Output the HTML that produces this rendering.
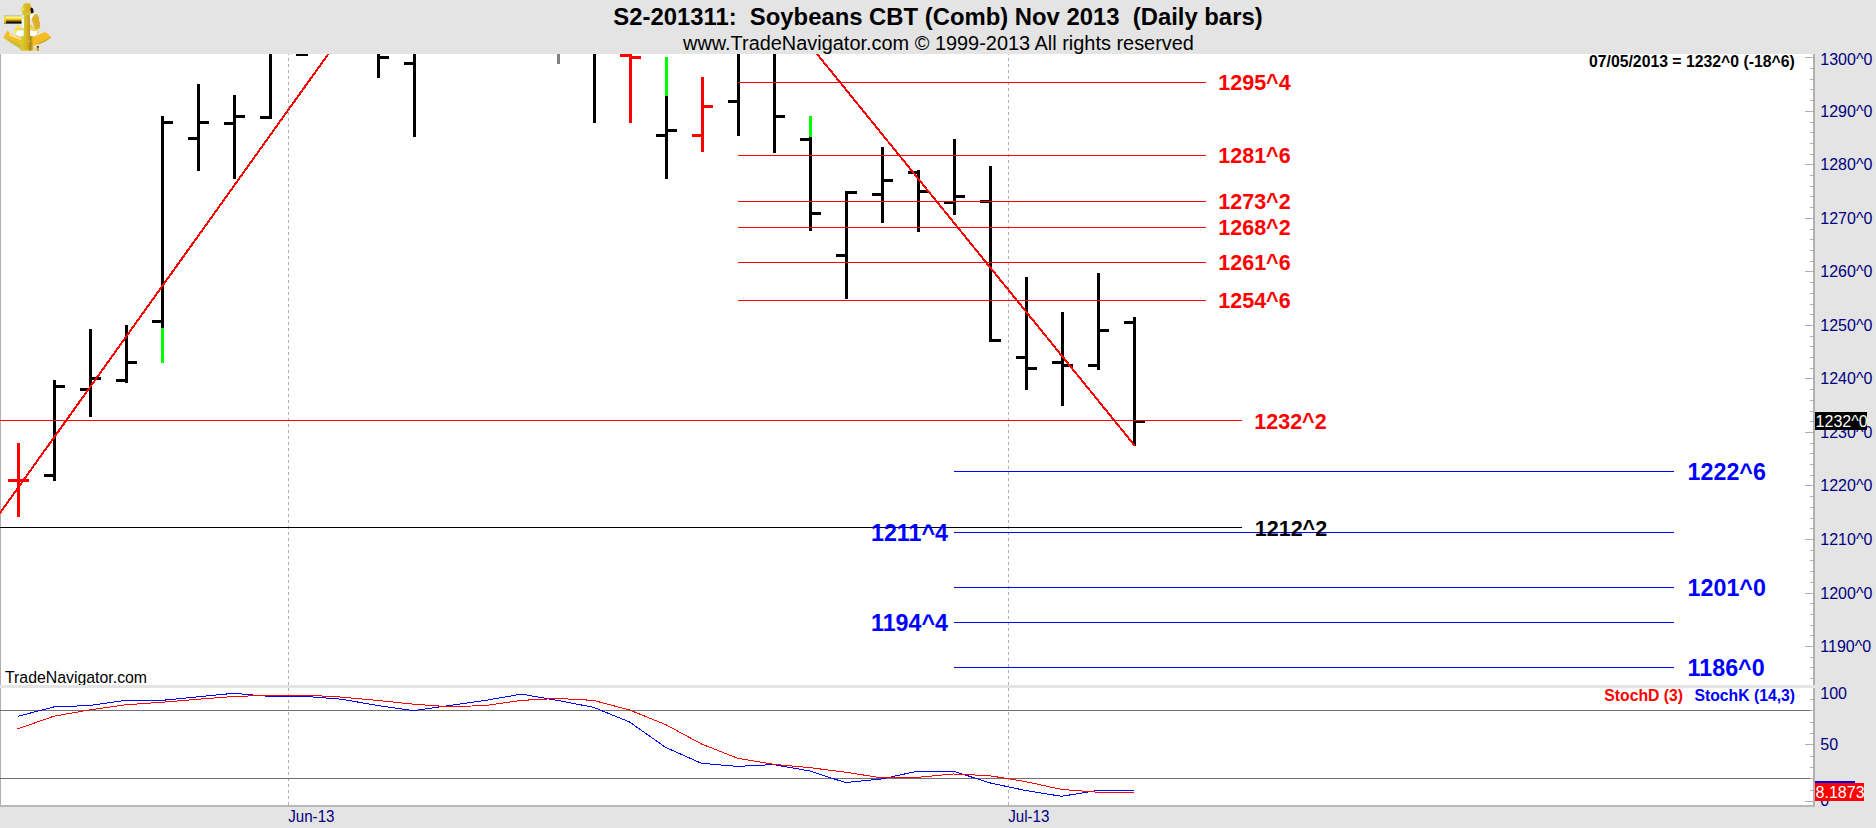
<!DOCTYPE html>
<html><head><meta charset="utf-8"><title>S2-201311 Soybeans</title>
<style>
html,body{margin:0;padding:0}
body{width:1876px;height:828px;background:#e4e4e4;overflow:hidden;position:relative;font-family:"Liberation Sans",sans-serif}
svg{position:absolute;left:0;top:0;font-family:"Liberation Sans",sans-serif}
text{white-space:pre}
</style></head><body>
<svg width="1876" height="828" viewBox="0 0 1876 828">
<defs>
<clipPath id="cp"><rect x="0" y="54" width="1813" height="751"/></clipPath>
<clipPath id="cp3"><rect x="0" y="600" width="400" height="85"/></clipPath>
</defs>
<g shape-rendering="crispEdges">
<rect x="0" y="54" width="1813" height="751" fill="#fff"/>
<rect x="0" y="54" width="1" height="753" fill="#b0b0b0"/>
<g clip-path="url(#cp)">
<path d="M288.5 52V805" stroke="#b0b0b0" stroke-width="1" stroke-dasharray="3 3" fill="none"/>
<path d="M1008.5 52V805" stroke="#b0b0b0" stroke-width="1" stroke-dasharray="3 3" fill="none"/>
<rect x="17" y="443" width="3" height="74" fill="#f00"/>
<rect x="8" y="479" width="12" height="3" fill="#f00"/>
<rect x="17" y="479" width="12" height="3" fill="#f00"/>
<rect x="53" y="380" width="3" height="101" fill="#000"/>
<rect x="44" y="474" width="12" height="3" fill="#000"/>
<rect x="53" y="385" width="12" height="3" fill="#000"/>
<rect x="89" y="329" width="3" height="88" fill="#000"/>
<rect x="80" y="388" width="12" height="3" fill="#000"/>
<rect x="89" y="377" width="12" height="3" fill="#000"/>
<rect x="125" y="325" width="3" height="58" fill="#000"/>
<rect x="116" y="379" width="12" height="3" fill="#000"/>
<rect x="125" y="361" width="12" height="3" fill="#000"/>
<rect x="161" y="116" width="3" height="212" fill="#000"/>
<rect x="152" y="320" width="12" height="3" fill="#000"/>
<rect x="161" y="121" width="12" height="3" fill="#000"/>
<rect x="197" y="84" width="3" height="87" fill="#000"/>
<rect x="188" y="137" width="12" height="3" fill="#000"/>
<rect x="197" y="121" width="12" height="3" fill="#000"/>
<rect x="233" y="95" width="3" height="84" fill="#000"/>
<rect x="224" y="122" width="12" height="3" fill="#000"/>
<rect x="233" y="115" width="12" height="3" fill="#000"/>
<rect x="269" y="54" width="3" height="65" fill="#000"/>
<rect x="260" y="116" width="12" height="3" fill="#000"/>
<rect x="296" y="53" width="12" height="3" fill="#000"/>
<rect x="377" y="54" width="3" height="24" fill="#000"/>
<rect x="377" y="56" width="12" height="3" fill="#000"/>
<rect x="413" y="54" width="3" height="83" fill="#000"/>
<rect x="404" y="62" width="12" height="3" fill="#000"/>
<rect x="593" y="54" width="3" height="69" fill="#000"/>
<rect x="629" y="54" width="3" height="69" fill="#f00"/>
<rect x="620" y="54" width="12" height="3" fill="#f00"/>
<rect x="629" y="56" width="12" height="3" fill="#f00"/>
<rect x="665" y="96" width="3" height="83" fill="#000"/>
<rect x="656" y="134" width="12" height="3" fill="#000"/>
<rect x="665" y="129" width="12" height="3" fill="#000"/>
<rect x="701" y="77" width="3" height="75" fill="#f00"/>
<rect x="692" y="134" width="12" height="3" fill="#f00"/>
<rect x="701" y="105" width="12" height="3" fill="#f00"/>
<rect x="737" y="54" width="3" height="82" fill="#000"/>
<rect x="728" y="100" width="12" height="3" fill="#000"/>
<rect x="773" y="54" width="3" height="99" fill="#000"/>
<rect x="773" y="115" width="12" height="3" fill="#000"/>
<rect x="809" y="137" width="3" height="94" fill="#000"/>
<rect x="800" y="138" width="12" height="3" fill="#000"/>
<rect x="809" y="212" width="12" height="3" fill="#000"/>
<rect x="845" y="191" width="3" height="108" fill="#000"/>
<rect x="836" y="254" width="12" height="3" fill="#000"/>
<rect x="845" y="191" width="12" height="3" fill="#000"/>
<rect x="881" y="147" width="3" height="76" fill="#000"/>
<rect x="872" y="193" width="12" height="3" fill="#000"/>
<rect x="881" y="179" width="12" height="3" fill="#000"/>
<rect x="917" y="170" width="3" height="62" fill="#000"/>
<rect x="908" y="171" width="12" height="3" fill="#000"/>
<rect x="917" y="190" width="12" height="3" fill="#000"/>
<rect x="953" y="139" width="3" height="76" fill="#000"/>
<rect x="944" y="201" width="12" height="3" fill="#000"/>
<rect x="953" y="195" width="12" height="3" fill="#000"/>
<rect x="989" y="166" width="3" height="176" fill="#000"/>
<rect x="980" y="200" width="12" height="3" fill="#000"/>
<rect x="989" y="339" width="12" height="3" fill="#000"/>
<rect x="1025" y="277" width="3" height="113" fill="#000"/>
<rect x="1016" y="356" width="12" height="3" fill="#000"/>
<rect x="1025" y="367" width="12" height="3" fill="#000"/>
<rect x="1061" y="312" width="3" height="94" fill="#000"/>
<rect x="1052" y="361" width="12" height="3" fill="#000"/>
<rect x="1061" y="364" width="12" height="3" fill="#000"/>
<rect x="1097" y="273" width="3" height="97" fill="#000"/>
<rect x="1088" y="364" width="12" height="3" fill="#000"/>
<rect x="1097" y="329" width="12" height="3" fill="#000"/>
<rect x="1133" y="317" width="3" height="129" fill="#000"/>
<rect x="1124" y="321" width="12" height="3" fill="#000"/>
<rect x="1133" y="420" width="12" height="3" fill="#000"/>
<rect x="161" y="328" width="3" height="35" fill="#0f0"/>
<rect x="665" y="57" width="3" height="39" fill="#0f0"/>
<rect x="809" y="116" width="3" height="21" fill="#0f0"/>
<rect x="557" y="54" width="3" height="10" fill="#808080"/>
<rect x="738" y="82" width="468" height="1" fill="#f00"/>
<rect x="738" y="155" width="468" height="1" fill="#f00"/>
<rect x="738" y="201" width="468" height="1" fill="#f00"/>
<rect x="738" y="227" width="468" height="1" fill="#f00"/>
<rect x="738" y="262" width="468" height="1" fill="#f00"/>
<rect x="738" y="300" width="468" height="1" fill="#f00"/>
<rect x="0" y="420" width="1242" height="1" fill="#f00"/>
<rect x="0" y="527" width="1242" height="1" fill="#000"/>
<rect x="954" y="471" width="720" height="1" fill="#00f"/>
<rect x="954" y="532" width="720" height="1" fill="#00f"/>
<rect x="954" y="587" width="720" height="1" fill="#00f"/>
<rect x="954" y="622" width="720" height="1" fill="#00f"/>
<rect x="954" y="667" width="720" height="1" fill="#00f"/>
<path d="M-1 514.4L328.4 53.8" stroke="#f00" stroke-width="2" fill="none"/>
<path d="M816.9 53.8L1134.6 445.5" stroke="#f00" stroke-width="2" fill="none"/>
<rect x="0" y="710" width="1813" height="1" fill="#707070"/>
<rect x="0" y="778" width="1813" height="1" fill="#707070"/>
<polyline points="17.5,716.4 53.5,707.0 89.5,705.5 125.5,700.4 161.5,700.4 197.5,696.9 233.5,693.3 269.5,696.4 305.5,696.4 341.5,699.2 377.5,705.5 413.5,710.6 449.5,705.5 485.5,700.4 521.5,694.1 557.5,700.4 593.5,707.3 629.5,722.0 665.5,747.3 701.5,763.3 737.5,766.4 773.5,764.6 809.5,770.9 845.5,782.6 881.5,779.0 917.5,771.2 953.5,771.2 989.5,782.8 1025.5,790.5 1061.5,796.3 1097.5,790.5 1133.5,790.5" fill="none" stroke="#00f" stroke-width="1"/>
<polyline points="17.5,729.0 53.5,716.3 89.5,709.9 125.5,704.8 161.5,702.3 197.5,699.3 233.5,696.5 269.5,695.3 305.5,695.1 341.5,697.1 377.5,700.4 413.5,704.2 449.5,706.8 485.5,705.5 521.5,700.4 557.5,698.4 593.5,700.4 629.5,710.0 665.5,724.5 701.5,744.0 737.5,758.2 773.5,764.3 809.5,767.6 845.5,772.2 881.5,777.8 917.5,777.3 953.5,774.0 989.5,775.7 1025.5,781.6 1061.5,789.4 1097.5,792.2 1133.5,792.2" fill="none" stroke="#f00" stroke-width="1"/>
</g>
<rect x="1805" y="57" width="8" height="1" fill="#b0b0b0"/>
<rect x="1810" y="68" width="3" height="1" fill="#b0b0b0"/>
<rect x="1810" y="79" width="3" height="1" fill="#b0b0b0"/>
<rect x="1810" y="89" width="3" height="1" fill="#b0b0b0"/>
<rect x="1810" y="100" width="3" height="1" fill="#b0b0b0"/>
<rect x="1805" y="111" width="8" height="1" fill="#b0b0b0"/>
<rect x="1810" y="122" width="3" height="1" fill="#b0b0b0"/>
<rect x="1810" y="132" width="3" height="1" fill="#b0b0b0"/>
<rect x="1810" y="143" width="3" height="1" fill="#b0b0b0"/>
<rect x="1810" y="154" width="3" height="1" fill="#b0b0b0"/>
<rect x="1805" y="164" width="8" height="1" fill="#b0b0b0"/>
<rect x="1810" y="175" width="3" height="1" fill="#b0b0b0"/>
<rect x="1810" y="186" width="3" height="1" fill="#b0b0b0"/>
<rect x="1810" y="196" width="3" height="1" fill="#b0b0b0"/>
<rect x="1810" y="207" width="3" height="1" fill="#b0b0b0"/>
<rect x="1805" y="218" width="8" height="1" fill="#b0b0b0"/>
<rect x="1810" y="229" width="3" height="1" fill="#b0b0b0"/>
<rect x="1810" y="239" width="3" height="1" fill="#b0b0b0"/>
<rect x="1810" y="250" width="3" height="1" fill="#b0b0b0"/>
<rect x="1810" y="261" width="3" height="1" fill="#b0b0b0"/>
<rect x="1805" y="271" width="8" height="1" fill="#b0b0b0"/>
<rect x="1810" y="282" width="3" height="1" fill="#b0b0b0"/>
<rect x="1810" y="293" width="3" height="1" fill="#b0b0b0"/>
<rect x="1810" y="304" width="3" height="1" fill="#b0b0b0"/>
<rect x="1810" y="314" width="3" height="1" fill="#b0b0b0"/>
<rect x="1805" y="325" width="8" height="1" fill="#b0b0b0"/>
<rect x="1810" y="336" width="3" height="1" fill="#b0b0b0"/>
<rect x="1810" y="346" width="3" height="1" fill="#b0b0b0"/>
<rect x="1810" y="357" width="3" height="1" fill="#b0b0b0"/>
<rect x="1810" y="368" width="3" height="1" fill="#b0b0b0"/>
<rect x="1805" y="378" width="8" height="1" fill="#b0b0b0"/>
<rect x="1810" y="389" width="3" height="1" fill="#b0b0b0"/>
<rect x="1810" y="400" width="3" height="1" fill="#b0b0b0"/>
<rect x="1810" y="411" width="3" height="1" fill="#b0b0b0"/>
<rect x="1810" y="421" width="3" height="1" fill="#b0b0b0"/>
<rect x="1805" y="432" width="8" height="1" fill="#b0b0b0"/>
<rect x="1810" y="443" width="3" height="1" fill="#b0b0b0"/>
<rect x="1810" y="453" width="3" height="1" fill="#b0b0b0"/>
<rect x="1810" y="464" width="3" height="1" fill="#b0b0b0"/>
<rect x="1810" y="475" width="3" height="1" fill="#b0b0b0"/>
<rect x="1805" y="485" width="8" height="1" fill="#b0b0b0"/>
<rect x="1810" y="496" width="3" height="1" fill="#b0b0b0"/>
<rect x="1810" y="507" width="3" height="1" fill="#b0b0b0"/>
<rect x="1810" y="518" width="3" height="1" fill="#b0b0b0"/>
<rect x="1810" y="528" width="3" height="1" fill="#b0b0b0"/>
<rect x="1805" y="539" width="8" height="1" fill="#b0b0b0"/>
<rect x="1810" y="550" width="3" height="1" fill="#b0b0b0"/>
<rect x="1810" y="560" width="3" height="1" fill="#b0b0b0"/>
<rect x="1810" y="571" width="3" height="1" fill="#b0b0b0"/>
<rect x="1810" y="582" width="3" height="1" fill="#b0b0b0"/>
<rect x="1805" y="593" width="8" height="1" fill="#b0b0b0"/>
<rect x="1810" y="603" width="3" height="1" fill="#b0b0b0"/>
<rect x="1810" y="614" width="3" height="1" fill="#b0b0b0"/>
<rect x="1810" y="625" width="3" height="1" fill="#b0b0b0"/>
<rect x="1810" y="635" width="3" height="1" fill="#b0b0b0"/>
<rect x="1805" y="646" width="8" height="1" fill="#b0b0b0"/>
<rect x="1810" y="657" width="3" height="1" fill="#b0b0b0"/>
<rect x="1810" y="667" width="3" height="1" fill="#b0b0b0"/>
<rect x="1810" y="678" width="3" height="1" fill="#b0b0b0"/>
<rect x="1805" y="801" width="8" height="1" fill="#b0b0b0"/>
<rect x="1810" y="790" width="3" height="1" fill="#b0b0b0"/>
<rect x="1810" y="778" width="3" height="1" fill="#b0b0b0"/>
<rect x="1810" y="767" width="3" height="1" fill="#b0b0b0"/>
<rect x="1810" y="756" width="3" height="1" fill="#b0b0b0"/>
<rect x="1805" y="744" width="8" height="1" fill="#b0b0b0"/>
<rect x="1810" y="733" width="3" height="1" fill="#b0b0b0"/>
<rect x="1810" y="722" width="3" height="1" fill="#b0b0b0"/>
<rect x="1810" y="710" width="3" height="1" fill="#b0b0b0"/>
<rect x="1810" y="699" width="3" height="1" fill="#b0b0b0"/>
<rect x="1813" y="54" width="2" height="753" fill="#b0b0b0"/>
<rect x="0" y="805" width="1815" height="2" fill="#b8b8b8"/>
<rect x="0" y="685" width="1815" height="3" fill="#e4e4e4"/>
</g>
<text x="613.3" y="25" font-size="23.85" fill="#000" font-weight="bold">S2-201311:  Soybeans CBT (Comb) Nov 2013  (Daily bars)</text>
<text transform="translate(683 50) scale(1.0 1.055)" font-size="19.93" fill="#000">www.TradeNavigator.com © 1999-2013 All rights reserved</text>
<text transform="translate(1589 66.5) scale(1.0 1.03)" font-size="15.8" fill="#000" font-weight="bold">07/05/2013 = 1232^0 (-18^6)</text>
<text x="1820.3" y="64.6" font-size="16" fill="#000080">1300^0</text>
<text x="1820.3" y="117.2" font-size="16" fill="#000080">1290^0</text>
<text x="1820.3" y="170.2" font-size="16" fill="#000080">1280^0</text>
<text x="1820.3" y="224.2" font-size="16" fill="#000080">1270^0</text>
<text x="1820.3" y="277.2" font-size="16" fill="#000080">1260^0</text>
<text x="1820.3" y="331.2" font-size="16" fill="#000080">1250^0</text>
<text x="1820.3" y="384.2" font-size="16" fill="#000080">1240^0</text>
<text x="1820.3" y="438.2" font-size="16" fill="#000080">1230^0</text>
<text x="1820.3" y="491.2" font-size="16" fill="#000080">1220^0</text>
<text x="1820.3" y="545.2" font-size="16" fill="#000080">1210^0</text>
<text x="1820.3" y="599.2" font-size="16" fill="#000080">1200^0</text>
<text x="1820.3" y="652.2" font-size="16" fill="#000080">1190^0</text>
<text transform="translate(1218.3 90.3) scale(1.0 1.035)" font-size="21.5" fill="#f00" font-weight="bold">1295^4</text>
<text transform="translate(1218.3 163.3) scale(1.0 1.035)" font-size="21.5" fill="#f00" font-weight="bold">1281^6</text>
<text transform="translate(1218.3 209.3) scale(1.0 1.035)" font-size="21.5" fill="#f00" font-weight="bold">1273^2</text>
<text transform="translate(1218.3 235.3) scale(1.0 1.035)" font-size="21.5" fill="#f00" font-weight="bold">1268^2</text>
<text transform="translate(1218.3 270.3) scale(1.0 1.035)" font-size="21.5" fill="#f00" font-weight="bold">1261^6</text>
<text transform="translate(1218.3 308.3) scale(1.0 1.035)" font-size="21.5" fill="#f00" font-weight="bold">1254^6</text>
<text transform="translate(1254.3 428.7) scale(1.0 1.035)" font-size="21.5" fill="#f00" font-weight="bold">1232^2</text>
<text transform="translate(1254.8 535.5) scale(1.0 1.035)" font-size="21.5" fill="#000" font-weight="bold">1212^2</text>
<text transform="translate(1687.6 480) scale(1.0 1.06)" font-size="23.28" fill="#00f" font-weight="bold">1222^6</text>
<text transform="translate(1687.6 596) scale(1.0 1.06)" font-size="23.28" fill="#00f" font-weight="bold">1201^0</text>
<text transform="translate(1687.6 676) scale(1.0 1.06)" font-size="23.28" fill="#00f" font-weight="bold">1186^0</text>
<text transform="translate(871 541) scale(1.0 1.06)" font-size="23.28" fill="#00f" font-weight="bold">1211^4</text>
<text transform="translate(871 631) scale(1.0 1.06)" font-size="23.28" fill="#00f" font-weight="bold">1194^4</text>
<text x="5" y="682.7" font-size="15.85" fill="#000" clip-path="url(#cp3)">TradeNavigator.com</text>
<text x="1604.3" y="701.2" font-size="15.75" fill="#f00" font-weight="bold">StochD (3)</text>
<text x="1694.4" y="701.2" font-size="15.75" fill="#00f" font-weight="bold">StochK (14,3)</text>
<text x="1820.3" y="699.2" font-size="16" fill="#000080">100</text>
<text x="1820.3" y="750" font-size="16" fill="#000080">50</text>
<text x="1820.3" y="805.8" font-size="16" fill="#000080">0</text>
<text transform="translate(288.2 822.1) scale(0.947 1.0)" font-size="16" fill="#000080">Jun-13</text>
<text transform="translate(1008.2 822.1) scale(0.947 1.0)" font-size="16" fill="#000080">Jul-13</text>
<rect x="1815" y="412" width="52" height="18" fill="#000"/>
<text x="1815.6" y="427.4" font-size="16" fill="#fff">1232^0</text>
<rect x="1815" y="781" width="40" height="3" fill="#0000e0"/>
<rect x="1815" y="783" width="49" height="18" fill="#f00"/>
<text x="1815.6" y="798" font-size="16" fill="#fff">8.1873</text>
<g id="logo">
<defs>
<linearGradient id="tg" x1="0" y1="0" x2="0" y2="1"><stop offset="0" stop-color="#b4b4a0"/><stop offset="0.12" stop-color="#e8e070"/><stop offset="0.3" stop-color="#ffff70"/><stop offset="0.5" stop-color="#f8b820"/><stop offset="0.7" stop-color="#705c10"/><stop offset="0.85" stop-color="#181000"/><stop offset="1" stop-color="#000"/></linearGradient>
<linearGradient id="cg" x1="0" y1="0" x2="1" y2="0"><stop offset="0" stop-color="#d8d030"/><stop offset="0.35" stop-color="#c8c828"/><stop offset="0.6" stop-color="#e0a020"/><stop offset="0.8" stop-color="#a08818"/><stop offset="1" stop-color="#d8c030"/></linearGradient>
</defs>
<path d="M22.2 18.9H24.3V27.5H22.2ZM30.4 14H34V20H30.4Z" fill="#fff"/>
<path d="M7.8 30.2L3.1 37.4L6.5 39.7L13 44.3L19.6 48.2L20.9 50.4H32.9L33.9 45.8L39.1 44.3L45.6 41.3L50.9 37.8V36.5L45.3 31.9L40.8 33.8L33.3 36.8L20.9 37.4L14.3 35.5L9.8 33.5Z" fill="#f6bc22"/>
<path d="M6.5 39.7L13 44.3L19.6 48.2L20.9 50.4L21.5 45L13 41L7.5 37.5Z" fill="#c8c040"/>
<path d="M9.3 33.9L20.9 38.4V40L9 35.3Z" fill="#fff2a0"/>
<path d="M39.1 44.3L45.6 41.3L50.9 37.8L49.5 37.5L44 40.5L38 43Z" fill="#c0b030"/>
<path d="M17.5 24.5L20.5 26L15.6 33.2L13.4 32.2Z" fill="#f0f048"/>
<path d="M30 24L38.8 32L37 33.8L29.5 27Z" fill="#ecc83c"/>
<path d="M15.4 28H39.1V29.8H15.4Z" fill="#f4d850"/>
<path d="M17.6 30.9H23.6L22.9 35.5L19.2 35.9L15.8 33.5Z" fill="#fff"/>
<path d="M30.3 30.9H37.2L36.8 34L34.5 35.8L30.4 35.6Z" fill="#fff"/>
<path d="M24.1 8H29.6L30 36L33 36.2L32.9 50.4H20.9L20.9 37L23.9 36Z" fill="url(#cg)"/>
<path d="M23.6 40.5H30.5V42H25V49H23.6Z" fill="#f0b028" opacity="0.8"/>
<path d="M23.5 3.8L26.7 2.9L30.3 3.6L31 6.5L32.6 8L32.2 10.5L30.6 13L30.6 15H22.2L22.5 12L21 9.5L21.2 7.6L23 6.5Z" fill="#d4c42c"/>
<path d="M26 4.5L29.5 5L30 9L28 13H26.5Z" fill="#e8a028" opacity="0.75"/>
<path d="M21.3 8L23.3 6.8L23.6 10.5L22 10Z" fill="#f8f060"/>
<path d="M30.6 7.5L32.8 8.2L33.6 11L33.4 12.8L31.2 13.4L30.4 10Z" fill="#181008"/>
<path d="M34 14.6L37.3 14L39 17.5L39.2 21L40.1 22.5V27.5L38.6 29H34.8L33.2 24L31.5 19Z" fill="#d8b830"/>
<path d="M35 17L38.5 19.5L39.5 26L36 27Z" fill="#eca428" opacity="0.7"/>
<rect x="4.1" y="15.3" width="17.4" height="8.3" fill="url(#tg)"/>
<rect x="4.1" y="15.6" width="2" height="8" fill="#f0d040" opacity="0.85"/>
<path d="M33.2 48.5H37V49.6H33.2Z" fill="#e8d040"/>
<path d="M36.8 46.2H38.8V50.8H36.8Z" fill="#c89010"/>
<path d="M36.8 46.2H38.8V47.5H36.8Z" fill="#302008"/>
</g>

</svg>
</body></html>
